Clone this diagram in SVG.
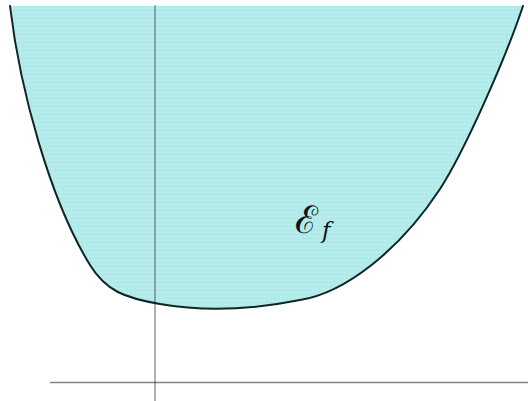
<svg xmlns="http://www.w3.org/2000/svg" width="528" height="401" viewBox="0 0 528 401">
<style>
.axis{stroke:#333;stroke-opacity:0.6;stroke-width:1.3;fill:none}
.curve{stroke:#0d2626;stroke-width:2;fill:none;stroke-linecap:round}
.lbl{font-family:"DejaVu Serif","Liberation Serif",serif;fill:#111}
</style>
<defs>
<pattern id="tex" width="4" height="4" patternUnits="userSpaceOnUse">
<rect width="4" height="4" fill="#b3ebeb"/>
<rect x="0" y="0" width="1" height="1" fill="#c2f1f1"/>
<rect x="2" y="2" width="1" height="1" fill="#a9e4e4"/>
</pattern>
</defs>
<g id="region">
<path d="M10,6 C20,90 50,200 90,265 C106,291 125,298 160,304 C200,311 250,310 300,300 C345,293 400,250 440,189 C464,152 505,60 523,6 Z" fill="url(#tex)"/>
</g>
<g id="axes">
<line class="axis" x1="155" y1="5" x2="155" y2="401"/>
<line class="axis" x1="50" y1="382.5" x2="528" y2="382.5"/>
</g>
<g id="boundary">
<path class="curve" d="M10,6 C20,90 50,200 90,265 C106,291 125,298 160,304 C200,311 250,310 300,300 C345,293 400,250 440,189 C464,152 505,60 523,6"/>
</g>
<g id="label">
<text class="lbl" x="295" y="233" font-size="38">ℰ</text>
<text class="lbl" x="322" y="238" font-size="23" font-style="italic">f</text>
</g>
</svg>
